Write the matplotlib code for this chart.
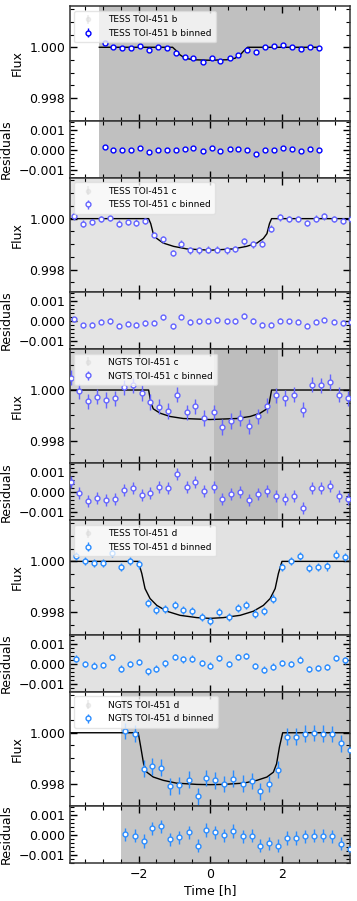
import numpy as np
import matplotlib
matplotlib.use("Agg")
import matplotlib.pyplot as plt
from matplotlib.ticker import MultipleLocator, FuncFormatter

# TESS TOI-451 b (binned)
b_tess_t = [-2.95, -2.71, -2.46, -2.21, -1.96, -1.70, -1.45, -1.21, -0.96, -0.71, -0.47, -0.21, 0.04,
            0.29, 0.55, 0.78, 1.03, 1.29, 1.54, 1.79, 2.05, 2.29, 2.54, 2.80, 3.05]
b_tess_f = [1.00015, 1.0, 0.99997, 0.99997, 1.00005, 0.9999, 1.0, 0.99997, 0.99977, 0.9996, 0.99957,
            0.99943, 0.99957, 0.99946, 0.99957, 0.99968, 0.99988, 0.9998, 1.0, 1.00004, 1.00009,
            1.00001, 0.99992, 1.00003, 0.99999]
b_tess_r = [0.00016, 0.0, -0.00003, -0.00003, 0.00007, -0.0001, 0.0, -0.00003, -0.00003, 0.00002,
            0.00007, -0.00005, 0.0001, -0.00005, 0.00004, 0.00005, -0.00003, -0.0002, 0.0, 0.0,
            0.0001, 0.00002, -0.00007, 0.00002, -0.00002]
b_tess_err = 0.00004
b_model_t = [-3.10, -1.05, -0.95, -0.84, -0.70, -0.47, 0.0, 0.47, 0.70, 0.84, 0.95, 1.05, 3.08]
b_model_f = [1.0, 1.0, 0.99987, 0.9997, 0.99957, 0.99951, 0.99949, 0.99951, 0.99957, 0.9997,
             0.99987, 1.0, 1.0]
b_tess_span = [-3.10, 3.08]

# TESS TOI-451 c (binned)
c_tess_t = [-3.81, -3.56, -3.31, -3.06, -2.81, -2.55, -2.30, -2.06, -1.81, -1.56, -1.31, -1.05,
            -0.80, -0.56, -0.30, -0.05, 0.20, 0.46, 0.71, 0.96, 1.21, 1.46, 1.70, 1.96, 2.21, 2.46,
            2.72, 2.95, 3.20, 3.46, 3.71, 3.93]
c_tess_f = [1.00009, 0.9998, 0.99987, 0.99999, 1.00003, 0.9998, 0.99987, 0.99984, 0.99991, 0.99935,
            0.99919, 0.99865, 0.99902, 0.99876, 0.99876, 0.99878, 0.99878, 0.99876, 0.99881, 0.99911,
            0.99899, 0.99902, 0.99961, 1.00005, 0.99999, 0.99999, 0.99983, 1.0, 1.00009, 0.99999,
            0.99991, 0.99998]
c_tess_r = [0.00009, -0.00021, -0.00018, -0.00004, 0.0, -0.00023, -0.00014, -0.00018, -0.0001,
            -0.00009, 0.00018, -0.00026, 0.00021, -0.00005, -0.00002, 0.00002, 0.00004, -0.00002,
            0.0, 0.00025, 0.0, -0.00018, -0.00018, 0.00002, -0.00002, -0.00004, -0.00023, -0.00004,
            0.00007, -0.00004, -0.0001, -0.00004]
c_tess_err = 0.00013
c_tess_model_t = [-4.1, -1.72, -1.66, -1.59, -1.49, -1.31, -1.02, -0.65, 0.0, 0.65, 1.02, 1.31,
                  1.49, 1.59, 1.66, 1.72, 4.1]
c_tess_model_f = [1.0, 1.0, 0.9998, 0.99941, 0.99922, 0.99904, 0.99891, 0.99881, 0.99876, 0.99881,
                  0.99891, 0.99904, 0.99922, 0.99941, 0.9998, 1.0, 1.0]

# NGTS TOI-451 c (binned)
c_ngts_t = [-3.89, -3.66, -3.41, -3.16, -2.91, -2.66, -2.42, -2.16, -1.91, -1.67, -1.42, -1.17,
            -0.92, -0.66, -0.41, -0.16, 0.10, 0.34, 0.59, 0.85, 1.10, 1.35, 1.60, 1.85, 2.09, 2.35,
            2.60, 2.85, 3.11, 3.36, 3.60, 3.85]
c_ngts_f = [1.00049, 0.99995, 0.99956, 0.99974, 0.99961, 0.99968, 1.0001, 1.00019, 0.99988, 0.99953,
            0.99935, 0.99917, 0.99982, 0.99913, 0.99936, 0.9989, 0.99912, 0.99855, 0.99878, 0.9989,
            0.99857, 0.99896, 0.99938, 0.99979, 0.99969, 0.99982, 0.99922, 1.00021, 1.00018,
            1.00032, 0.99982, 0.99968]
c_ngts_r = [0.00052, -0.00003, -0.00043, -0.00026, -0.0004, -0.00033, 0.00012, 0.00021, -0.00012,
            -0.00005, 0.00028, 0.00022, 0.00091, 0.00026, 0.00052, 0.00005, 0.00029, -0.00031,
            -0.00009, 0.0, -0.00038, -0.00007, 0.00009, -0.00019, -0.00031, -0.00017, -0.00078,
            0.00024, 0.00021, 0.00034, -0.00017, -0.00033]
c_ngts_err = 0.0003
c_ngts_model_t = [-4.1, -1.72, -1.66, -1.59, -1.40, -1.12, -0.75, 0.0, 0.75, 1.12, 1.40, 1.59,
                  1.66, 1.72, 4.1]
c_ngts_model_f = [1.0, 1.0, 0.99952, 0.99926, 0.99909, 0.99896, 0.99888, 0.99884, 0.99888, 0.99896,
                  0.99909, 0.99926, 0.99952, 1.0, 1.0]

# TESS TOI-451 d (binned)
d_tess_t = [-3.76, -3.51, -3.25, -3.00, -2.75, -2.50, -2.25, -2.00, -1.75, -1.50, -1.25, -0.99,
            -0.75, -0.50, -0.24, 0.01, 0.26, 0.52, 0.77, 1.01, 1.27, 1.52, 1.77, 2.02, 2.27, 2.51,
            2.77, 3.02, 3.27, 3.53, 3.77]
d_tess_f = [1.00021, 1.0, 0.99993, 0.99993, 1.00034, 0.99978, 1.0, 0.99988, 0.99837, 0.99809,
            0.99812, 0.99827, 0.9981, 0.99805, 0.99782, 0.99766, 0.99801, 0.99782, 0.99817, 0.9983,
            0.99795, 0.99804, 0.99854, 0.99978, 1.0, 1.00021, 0.99974, 0.99978, 0.9998, 1.00027,
            1.00016]
d_tess_r = [0.00026, 0.0, -0.00009, -0.00007, 0.00034, -0.00024, 0.0, 0.00009, -0.00038, -0.00024,
            0.00002, 0.00034, 0.00022, 0.00026, 0.00005, -0.00009, 0.00029, 0.0, 0.00034, 0.0004,
            -0.00012, -0.00029, -0.00014, 0.00003, 0.0, 0.00021, -0.00026, -0.00022, -0.00017,
            0.00029, 0.00017]
d_tess_err = 0.00016
d_tess_model_t = [-4.1, -2.01, -1.91, -1.82, -1.68, -1.49, -1.21, -0.84, -0.37, 0.0, 0.37, 0.84,
                  1.21, 1.49, 1.68, 1.82, 1.91, 2.01, 4.1]
d_tess_model_f = [1.0, 1.0, 0.99952, 0.99893, 0.99854, 0.99827, 0.99804, 0.99788, 0.99779, 0.99776,
                  0.99779, 0.99788, 0.99804, 0.99827, 0.99854, 0.99893, 0.99952, 1.0, 1.0]

# NGTS TOI-451 d (binned)
d_ngts_t = [-2.37, -2.10, -1.86, -1.62, -1.36, -1.11, -0.86, -0.60, -0.35, -0.11, 0.15, 0.40,
            0.65, 0.91, 1.16, 1.41, 1.66, 1.91, 2.15, 2.41, 2.66, 2.91, 3.16, 3.40, 3.65, 3.90]
d_ngts_f = [1.00007, 0.99996, 0.99859, 0.99868, 0.99863, 0.9979, 0.99794, 0.99816, 0.9975, 0.99822,
            0.99813, 0.99799, 0.9982, 0.998, 0.9981, 0.9977, 0.99799, 0.99855, 0.99984, 0.99984,
            0.99996, 0.99999, 0.99997, 0.99995, 0.99959, 0.99933]
d_ngts_r = [0.00005, -0.00003, -0.00029, 0.00034, 0.00045, -0.00021, -0.0001, 0.00014, -0.00052,
            0.00026, 0.00014, 0.0, 0.00021, -0.00005, -0.00003, -0.00052, -0.00041, -0.00052,
            -0.00014, -0.00014, -0.00005, -0.00003, -0.00003, -0.00005, -0.00043, -0.00069]
d_ngts_err = 0.00033
d_ngts_model_t = [-4.1, -2.01, -1.94, -1.86, -1.77, -1.59, -1.31, -0.94, -0.37, 0.0, 0.37, 0.94,
                  1.31, 1.59, 1.77, 1.86, 1.94, 2.03, 4.1]
d_ngts_model_f = [1.0, 1.0, 0.99944, 0.99878, 0.99845, 0.99826, 0.99813, 0.99802, 0.99797, 0.99796,
                  0.99797, 0.99802, 0.99813, 0.99826, 0.99845, 0.99878, 0.99944, 1.0, 1.0]

# coverage of the unbinned data (drawn as gray bands)
full_span = [-4.1, 4.1]
c_ngts_dense_span = [0.10, 1.90]
d_ngts_span = [-2.49, 4.1]

labels = ["TESS TOI-451 b", "TESS TOI-451 c", "NGTS TOI-451 c", "TESS TOI-451 d", "NGTS TOI-451 d"]

panels = [
    (b_tess_t, b_tess_f, b_tess_r, b_tess_err, b_model_t, b_model_f, "blue",
     [(b_tess_span, "#c0c0c0")]),
    (c_tess_t, c_tess_f, c_tess_r, c_tess_err, c_tess_model_t, c_tess_model_f, "#6464ff",
     [(full_span, "#e4e4e4")]),
    (c_ngts_t, c_ngts_f, c_ngts_r, c_ngts_err, c_ngts_model_t, c_ngts_model_f, "#6464ff",
     [(full_span, "#d3d3d3"), (c_ngts_dense_span, "#bdbdbd")]),
    (d_tess_t, d_tess_f, d_tess_r, d_tess_err, d_tess_model_t, d_tess_model_f, "#2a8cff",
     [(full_span, "#e2e2e2")]),
    (d_ngts_t, d_ngts_f, d_ngts_r, d_ngts_err, d_ngts_model_t, d_ngts_model_f, "#2a8cff",
     [(d_ngts_span, "#c6c6c6")]),
]

fmt = FuncFormatter(lambda v, p: ("%.3f" % v).replace("-", "\u2212"))

fig = plt.figure(figsize=(3.57, 9.01), dpi=100)
gs = fig.add_gridspec(10, 1, height_ratios=[2, 1] * 5, hspace=0,
                      left=0.196, right=0.981, top=0.993, bottom=0.042)

axes = []
for i, (t, f, r, err, mt, mf, col, spans) in enumerate(panels):
    ax = fig.add_subplot(gs[2 * i])
    axr = fig.add_subplot(gs[2 * i + 1])
    for a in (ax, axr):
        for span, bg in spans:
            a.axvspan(span[0], span[1], color=bg, lw=0, zorder=0)

    # legend entry for the unbinned data
    ax.errorbar([np.nan], [np.nan], yerr=[np.nan], fmt="o", color="lightgray", alpha=0.35,
                ms=3, label=labels[i])
    ax.plot(mt, mf, color="black", lw=1.0, zorder=2)
    ax.errorbar(t, f, yerr=err, fmt="o", color=col, mfc="white", mec=col, ms=3.5, mew=1.0,
                elinewidth=1.0, capsize=0, zorder=3, label=labels[i] + " binned")
    axr.errorbar(t, r, yerr=err, fmt="o", color=col, mfc="white", mec=col, ms=3.5, mew=1.0,
                 elinewidth=1.0, capsize=0, zorder=3)

    ax.set_ylim(0.99712, 1.00161)
    axr.set_ylim(-0.0014, 0.00146)
    ax.yaxis.set_major_locator(MultipleLocator(0.002))
    ax.yaxis.set_minor_locator(MultipleLocator(0.0005))
    axr.yaxis.set_major_locator(MultipleLocator(0.001))
    axr.yaxis.set_minor_locator(MultipleLocator(0.0002))
    ax.yaxis.set_major_formatter(fmt)
    axr.yaxis.set_major_formatter(fmt)
    ax.set_ylabel("Flux", fontsize=9)
    axr.set_ylabel("Residuals", fontsize=9)

    ax.legend(loc="upper left", fontsize=6.5, framealpha=0.75, edgecolor="#dddddd",
              borderpad=0.5, handletextpad=1.2)
    for a in (ax, axr):
        a.set_xlim(-3.92, 3.92)
        a.xaxis.set_major_locator(MultipleLocator(2))
        a.xaxis.set_minor_locator(MultipleLocator(0.5))
        a.tick_params(which="both", direction="in", top=True, right=True, labelsize=9)
        a.tick_params(which="major", length=5, width=1)
        a.tick_params(which="minor", length=3, width=0.8)
        for s in a.spines.values():
            s.set_linewidth(1.1)
            s.set_color("#333333")
        if a is not axr or i < 4:
            a.tick_params(labelbottom=False)
    axes.append((ax, axr))

axes[-1][1].set_xlabel("Time [h]", fontsize=9, labelpad=2)

plt.savefig("out.png", dpi=100)
